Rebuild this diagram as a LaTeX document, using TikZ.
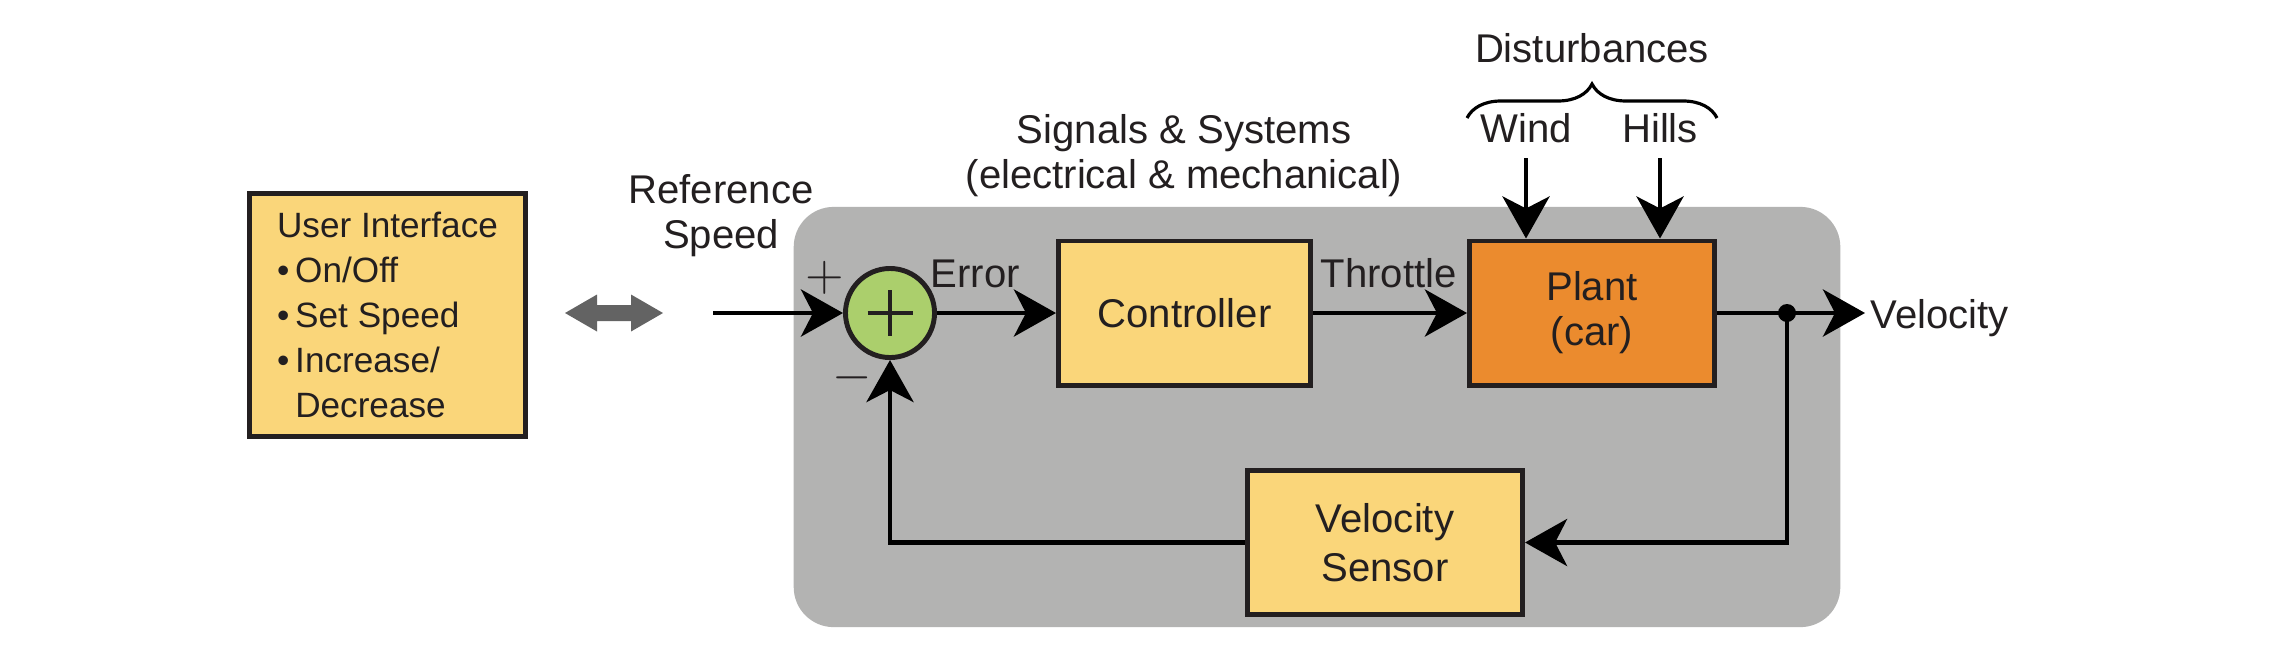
\documentclass[tikz,border=0pt]{standalone}
\usepackage{fontspec}
\setmainfont{Liberation Sans}
\usetikzlibrary{arrows.meta,decorations.pathreplacing}

\definecolor{boxyellow}{RGB}{250,214,122}
\definecolor{plantorange}{RGB}{235,139,46}
\definecolor{panelgray}{RGB}{179,179,178}
\definecolor{sumgreen}{RGB}{171,207,108}
\definecolor{inkdark}{RGB}{35,31,32}
\definecolor{arrowgray}{RGB}{99,99,99}

\begin{document}
\begin{tikzpicture}[x=0.01cm,y=-0.01cm,
  font=\fontsize{11.4}{12.8}\selectfont, text=inkdark,
  bloc/.style={draw=inkdark,line width=1.4pt,fill=boxyellow,align=center,inner sep=0pt},
  lbl/.style={inner sep=0pt},
  sig/.style={line width=1.4pt,-{Stealth[length=0.42cm,width=0.47cm,inset=0.12cm]}}]
  % paramètres
  \def\ly{313} % hauteur de la ligne principale
  \useasboundingbox (0,0) rectangle (2283,666);

  % fond gris du système
  \node (sys) [fill=panelgray,rounded corners=0.4cm,minimum width=10.46cm,
    minimum height=4.2cm,inner sep=0pt] at (1317,417) {};

  % blocs
  \node (ui) [bloc,align=left,minimum width=2.76cm,minimum height=2.43cm,
    font=\fontsize{10}{12.8}\selectfont] at (387.5,315)
    {User Interface\\\textbullet\,On/Off\\\textbullet\,Set Speed\\
     \textbullet\,Increase/\\\phantom{\textbullet\,}Decrease};
  \node (ctrl) [bloc,minimum width=2.52cm,minimum height=1.44cm] at (1184.5,\ly) {Controller};
  \node (plant) [bloc,fill=plantorange,minimum width=2.45cm,minimum height=1.44cm]
    at (1592,\ly) {Plant\\(car)};
  \node (sens) [bloc,minimum width=2.75cm,minimum height=1.44cm,
    font=\fontsize{11.4}{13.8}\selectfont] at (1385,542.5) {Velocity\\Sensor};

  % sommateur
  \node (sum) [circle,draw=inkdark,line width=1.4pt,fill=sumgreen,minimum size=0.89cm,
    inner sep=0pt] at (890,\ly) {};
  \draw[line width=1.4pt,inkdark] ([xshift=-0.225cm]sum.center) -- ([xshift=0.225cm]sum.center)
    ([yshift=-0.225cm]sum.center) -- ([yshift=0.225cm]sum.center);
  \node (plus) [lbl,font=\fontsize{14.5}{14.5}\selectfont] at (825,278) {$+$};
  \node (minus) [lbl,font=\fontsize{14.5}{14.5}\selectfont] at (852,378) {$-$};

  % point de dérivation et extrémités libres
  \node (tap) [circle,fill=black,minimum size=0.18cm,inner sep=0pt] at (1787,\ly) {};
  \coordinate (ref) at (713,\ly);
  \coordinate (vout) at (1865,\ly);

  % flèche double grise
  \fill[arrowgray] (565,\ly) -- (597,294.5) -- (597,305) -- (631,305) -- (631,294.5)
    -- (663,\ly) -- (631,331.5) -- (631,321) -- (597,321) -- (597,331.5) -- cycle;

  % textes
  \node (refsp) [lbl,align=center] at (721,216) {Reference\\Speed};
  \node (sigsys) [lbl,align=center] at (1184,156) {Signals \& Systems\\(electrical \& mechanical)};
  \node (dist) [lbl,anchor=base] at (1592,62) {Disturbances};
  \node (wind) [lbl,anchor=base] at (1526,142) {Wind};
  \node (hills) [lbl,anchor=base] at (1660,142) {Hills};
  \node (err) [lbl,anchor=base west] at (930,287) {Error};
  \node (thr) [lbl,anchor=base west] at (1320,287) {Throttle};
  \node (vel) [lbl,anchor=base west] at (1870,328) {Velocity};

  % accolade des perturbations
  \draw[line width=0.9pt,decorate,decoration={brace,amplitude=0.34cm}]
    (1467,118) -- (1717,118);

  % liaisons
  \draw[sig] (ref) -- (sum);
  \draw[sig] (sum) -- (ctrl);
  \draw[sig] (ctrl) -- (plant);
  \draw[sig] (plant) -- (vout);
  \draw[sig] (tap.center) |- (sens);
  \draw[sig] (sens) -| (sum);
  \draw[sig] ([yshift=-0.15cm]wind.south) -- (wind.south |- plant.north);
  \draw[sig] ([yshift=-0.15cm]hills.south) -- (hills.south |- plant.north);
\end{tikzpicture}
\end{document}
